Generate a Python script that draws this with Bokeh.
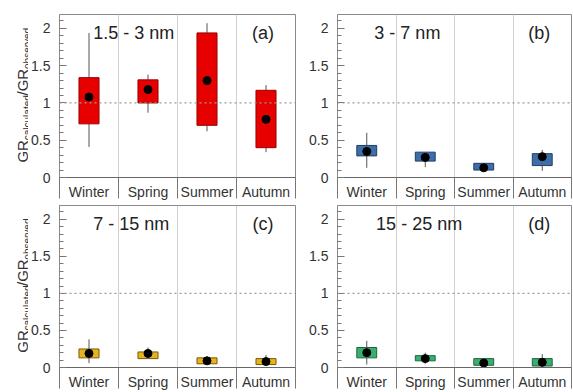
import math
from bokeh.plotting import figure
from bokeh.models import FixedTicker, Span, Label, Range1d, ColumnDataSource
from bokeh.core.properties import value
from bokeh.layouts import column, row
from bokeh.embed import file_html
from bokeh.resources import INLINE

seasons = ["Winter", "Spring", "Summer", "Autumn"]
y_ticks = [0, 0.5, 1, 1.5, 2]

# Panel (a) 1.5 - 3 nm
a_low = [0.41, 0.87, 0.62, 0.34]
a_q1 = [0.72, 1.00, 0.70, 0.40]
a_med = [1.20, 1.18, 1.30, 0.78]
a_q3 = [1.34, 1.31, 1.94, 1.17]
a_high = [1.94, 1.38, 2.07, 1.24]
a_mean = [1.08, 1.18, 1.30, 0.78]

# Panel (b) 3 - 7 nm
b_low = [0.13, 0.14, 0.08, 0.09]
b_q1 = [0.29, 0.22, 0.10, 0.16]
b_med = [0.36, 0.27, 0.14, 0.27]
b_q3 = [0.43, 0.34, 0.19, 0.32]
b_high = [0.60, 0.34, 0.19, 0.37]
b_mean = [0.35, 0.27, 0.13, 0.28]

# Panel (c) 7 - 15 nm
c_low = [0.06, 0.12, 0.04, 0.03]
c_q1 = [0.13, 0.12, 0.05, 0.04]
c_med = [0.19, 0.17, 0.09, 0.08]
c_q3 = [0.25, 0.21, 0.13, 0.12]
c_high = [0.38, 0.27, 0.15, 0.17]
c_mean = [0.19, 0.19, 0.09, 0.08]

# Panel (d) 15 - 25 nm
d_low = [0.04, 0.05, 0.02, 0.01]
d_q1 = [0.13, 0.09, 0.03, 0.02]
d_med = [0.20, 0.12, 0.06, 0.07]
d_q3 = [0.27, 0.16, 0.12, 0.12]
d_high = [0.36, 0.20, 0.12, 0.18]
d_mean = [0.20, 0.12, 0.06, 0.07]

FONT = "Liberation Sans"
Y_END = 2.187


def make_panel(stats, size_label, tag, fill, edge, width, height, left, right, top, bottom,
               size_x):
    low, q1, med, q3, high, mean = stats
    xs = [i + 0.5 for i in range(len(seasons))]
    p = figure(width=width, height=height, x_range=Range1d(0, 4), y_range=Range1d(0, Y_END),
               output_backend="svg", toolbar_location=None,
               min_border_left=left, min_border_right=right,
               min_border_top=top, min_border_bottom=bottom)
    p.background_fill_color = "white"
    p.border_fill_color = "white"
    p.outline_line_color = "#8a8a8a"

    # x axis: labels at centres, separators (minor ticks) at boundaries
    p.xaxis.ticker = FixedTicker(ticks=xs, minor_ticks=[0, 1, 2, 3, 4])
    p.xaxis.major_label_overrides = {x: s for x, s in zip(xs, seasons)}
    p.xaxis.major_tick_line_color = None
    p.xaxis.major_tick_in = 0
    p.xaxis.major_tick_out = 0
    p.xaxis.minor_tick_in = 0
    p.xaxis.minor_tick_out = 21
    p.xaxis.minor_tick_line_color = "#777777"
    p.xaxis.minor_tick_line_width = 1
    p.xaxis.axis_line_color = "#666666"
    p.xaxis.major_label_standoff = -15
    p.xaxis.major_label_text_font = FONT
    p.xaxis.major_label_text_font_size = "14px"
    p.xaxis.major_label_text_color = "#333333"

    # y axis
    p.yaxis.ticker = FixedTicker(ticks=y_ticks, minor_ticks=[round(0.1 * i, 2) for i in range(22)])
    p.yaxis.major_tick_in = 7
    p.yaxis.major_tick_out = 0
    p.yaxis.minor_tick_in = 4
    p.yaxis.minor_tick_out = 0
    p.yaxis.major_tick_line_color = "#777777"
    p.yaxis.minor_tick_line_color = "#777777"
    p.yaxis.axis_line_color = "#8a8a8a"
    p.yaxis.major_label_standoff = 9
    p.yaxis.major_label_text_font = FONT
    p.yaxis.major_label_text_font_size = "14px"
    p.yaxis.major_label_text_color = "#333333"

    p.xgrid.ticker = FixedTicker(ticks=[1, 2, 3])
    p.xgrid.grid_line_color = "#d0d0d0"
    p.ygrid.grid_line_color = None

    p.add_layout(Span(location=1, dimension="width", line_color="#9a9a9a",
                      line_dash="2 3", line_width=1.2))

    src = ColumnDataSource(dict(x=xs, low=low, q1=q1, med=med, q3=q3, high=high, mean=mean))
    # whiskers
    p.segment(x0="x", y0="low", x1="x", y1="q1", source=src, line_color="#555555", line_width=1)
    p.segment(x0="x", y0="q3", x1="x", y1="high", source=src, line_color="#555555", line_width=1)
    p.rect(x="x", y="low", width=0.17, height=0, source=src, line_color="#555555", line_width=1)
    p.rect(x="x", y="high", width=0.17, height=0, source=src, line_color="#555555", line_width=1)
    # boxes
    p.vbar(x="x", bottom="q1", top="q3", width=0.34, source=src,
           fill_color=fill, line_color=edge, line_width=1)
    # medians
    p.rect(x="x", y="med", width=0.34, height=0, source=src, line_color=edge, line_width=1.2)
    # means
    p.scatter(x="x", y="mean", source=src, size=8, fill_color="black", line_color="black")

    p.add_layout(Label(x=size_x, y=1.94, text=size_label, text_font=FONT,
                       text_font_size="18px", text_color="#222222",
                       text_align="left", text_baseline="alphabetic"))
    p.add_layout(Label(x=3.45, y=1.94, text=tag, text_font=FONT,
                       text_font_size="18px", text_color="#222222",
                       text_align="center", text_baseline="alphabetic"))
    return p


def make_ylabel(height, top, bottom, width=28):
    f = figure(width=width, height=height, x_range=Range1d(0, width),
               y_range=Range1d(0, Y_END), x_axis_type=None, y_axis_type=None,
               output_backend="svg", toolbar_location=None,
               min_border_left=0, min_border_right=0,
               min_border_top=top, min_border_bottom=bottom)
    f.grid.visible = False
    f.outline_line_color = None
    f.background_fill_color = "white"
    f.border_fill_color = "white"
    f.text(x=[22, 22], y=[0.20, 1.10], text=["GR", "/GR"], angle=math.pi / 2,
           text_align="left", text_baseline="alphabetic", text_font=value(FONT),
           text_font_size="15px", text_color="#333333")
    f.text(x=[27, 27], y=[0.50, 1.456], text=["calculated", "observed"], angle=math.pi / 2,
           text_align="left", text_baseline="alphabetic", text_font=value(FONT),
           text_font_size="10px", text_color="#333333")
    return f


la = make_ylabel(202, 14, 24)
pa = make_panel((a_low, a_q1, a_med, a_q3, a_high, a_mean), "1.5 - 3 nm", "(a)",
                "#e60000", "#9a0000", 277, 202, 29, 10, 14, 24, 0.57)
pb = make_panel((b_low, b_q1, b_med, b_q3, b_high, b_mean), "3 - 7 nm", "(b)",
                "#3e6ea8", "#1f3d66", 268, 202, 32, 2, 14, 24, 0.63)
lc = make_ylabel(190, 3, 23)
pc = make_panel((c_low, c_q1, c_med, c_q3, c_high, c_mean), "7 - 15 nm", "(c)",
                "#e6b422", "#7a5c00", 277, 190, 29, 10, 3, 23, 0.57)
pd_ = make_panel((d_low, d_q1, d_med, d_q3, d_high, d_mean), "15 - 25 nm", "(d)",
                 "#3aae6e", "#1b6640", 268, 190, 32, 2, 3, 23, 0.66)

layout = column(row(la, pa, pb), row(lc, pc, pd_))
open("out.html", "w").write(file_html(layout, INLINE))
